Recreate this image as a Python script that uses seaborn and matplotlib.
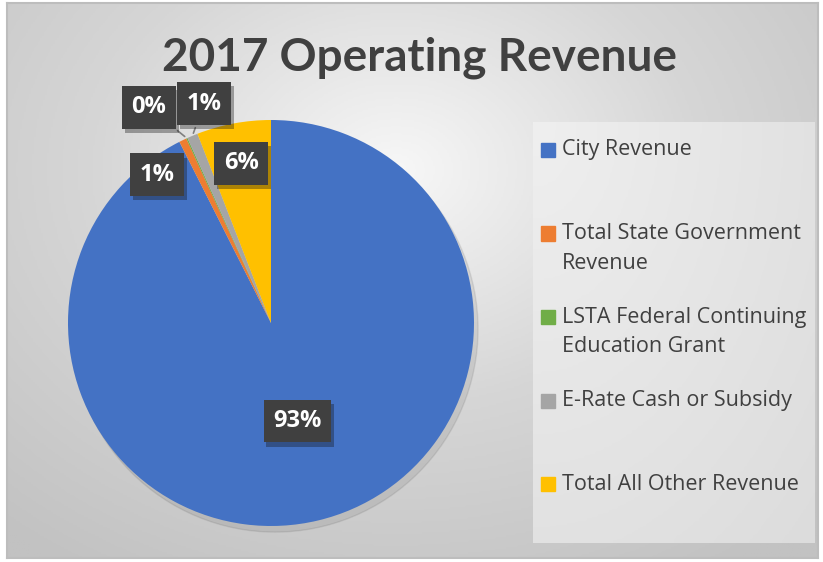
import numpy as np
import matplotlib.pyplot as plt
import matplotlib.patheffects as pe
from matplotlib.colors import LinearSegmentedColormap
from matplotlib.patches import Rectangle, Circle
import seaborn as sns

# Revenue shares (%)
categories = ["City Revenue", "Total State Government\nRevenue",
              "LSTA Federal Continuing\nEducation Grant", "E-Rate Cash or Subsidy",
              "Total All Other Revenue"]
shares = [92.55, 0.6, 0.1, 0.85, 5.9]
colors = ["#4472C4", "#ED7D31", "#70AD47", "#A5A5A5", "#FFC000"]

# where the data labels sit (radius, angle in degrees from the pie centre)
label_radius = [0.50, 0.92, 1.22, 1.13, 0.80]
label_angle = [-75, 127.5, 119.5, 107, 100.6]
leader = [False, False, True, True, False]

sns.set_style("white")
plt.rcParams["font.family"] = ["Open Sans", "DejaVu Sans"]

W, H = 823, 562
fig = plt.figure(figsize=(W / 100, H / 100), dpi=100)
fig.patch.set_facecolor("white")

# gradient chart background
bg = fig.add_axes([7 / W, 4 / H, 811 / W, 555 / H], zorder=-5)
yy, xx = np.mgrid[0:1:300j, 0:1:440j]
d = np.sqrt(((xx - 0.48) / 0.75) ** 2 + ((yy - 0.3) / 0.85) ** 2)
grad = LinearSegmentedColormap.from_list("bg", ["#f7f7f7", "#d6d6d6", "#c2c2c2"])
bg.imshow(d, cmap=grad, aspect="auto", extent=[0, 1, 0, 1], origin="upper", vmin=0, vmax=1.0)
bg.set_xticks([])
bg.set_yticks([])
for s in bg.spines.values():
    s.set_color("#bdbdbd")
    s.set_linewidth(1.5)

# legend panel
lg = fig.add_axes([533 / W, (H - 543) / H, (815 - 533) / W, (543 - 122) / H], zorder=-4)
yy2, xx2 = np.mgrid[0:1:100j, 0:1:100j]
lg.imshow(np.sqrt(xx2 ** 2 + yy2 ** 2), cmap=LinearSegmentedColormap.from_list("lg", ["#efefef", "#dcdcdc"]),
          aspect="auto", extent=[0, 1, 0, 1], origin="upper")
lg.axis("off")

# pie
R = 203
cx, cy = 271, H - 323
span = 1.45
ax = fig.add_axes([(cx - span * R) / W, (cy - span * R) / H, 2 * span * R / W, 2 * span * R / H])
ax.set_facecolor("none")
ax.add_patch(Circle((0.02, -0.03), 1.0, color="#000000", alpha=0.08, zorder=0))
wedges, _ = ax.pie(shares, colors=colors, startangle=90, counterclock=False, radius=1,
                   wedgeprops=dict(linewidth=0))
ax.set_xlim(-span, span)
ax.set_ylim(-span, span)
ax.axis("off")

total = sum(shares)
for w, v, r, a, lead in zip(wedges, shares, label_radius, label_angle, leader):
    pos = (r * np.cos(np.radians(a)), r * np.sin(np.radians(a)))
    mid = np.radians((w.theta1 + w.theta2) / 2)
    edge = (np.cos(mid), np.sin(mid))
    t = ax.annotate(f"{100 * v / total:.0f}%", xy=edge if lead else pos, xytext=pos,
                    ha="center", va="center", fontsize=17, fontweight="bold", color="white",
                    bbox=dict(boxstyle="square,pad=0.4", fc="#404040", ec="none"),
                    arrowprops=dict(arrowstyle="-", color="#7f7f7f", lw=1.2) if lead else None,
                    zorder=5)
    t.get_bbox_patch().set_path_effects([pe.SimplePatchShadow(offset=(2, -3), alpha=0.35), pe.Normal()])

# title
fig.text(420 / W, 1 - 58 / H, "2017 Operating Revenue", ha="center", va="center",
         fontsize=33, fontweight="bold", color="#404040", family=["Lato", "DejaVu Sans"])

# legend entries
for i, (name, c) in enumerate(zip(categories, colors)):
    y = 150 + i * 83.5
    fig.patches.append(Rectangle((541 / W, 1 - (y + 7) / H), 14 / W, 14 / H,
                                 transform=fig.transFigure, color=c))
    for k, line in enumerate(name.split("\n")):
        fig.text(562 / W, 1 - (y + k * 30) / H, line, ha="left", va="center",
                 fontsize=15.5, color="#404040")

fig.savefig("out.png", dpi=100)
